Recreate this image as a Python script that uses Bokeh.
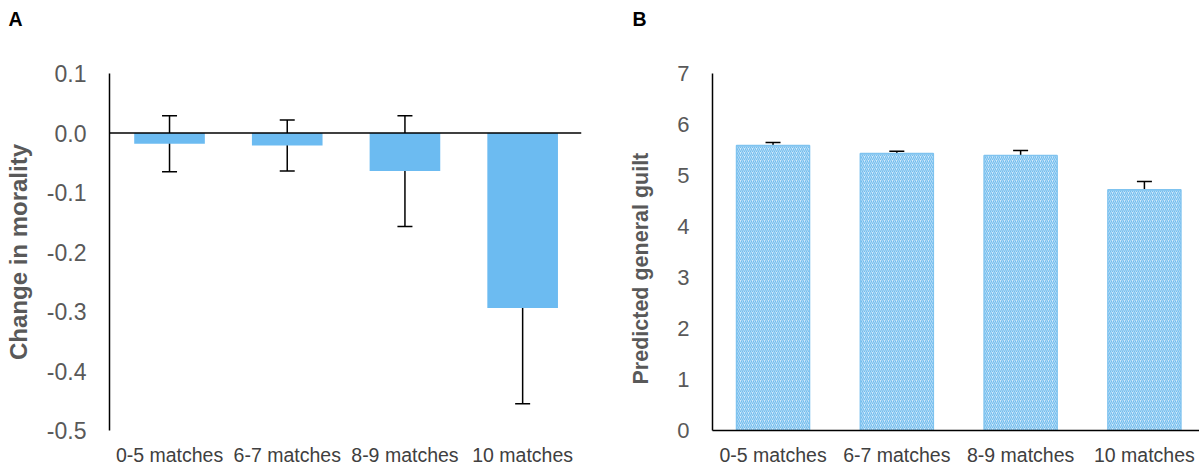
from bokeh.plotting import figure
from bokeh.models import (Range1d, FixedTicker, NumeralTickFormatter, Span, Whisker,
                          TeeHead, ColumnDataSource, Title)
from bokeh.layouts import row
from bokeh.embed import file_html
from bokeh.resources import INLINE

# ---- data ----
categories = ["0-5 matches", "6-7 matches", "8-9 matches", "10 matches"]
morality_change = [-0.018, -0.021, -0.064, -0.294]
morality_err = [0.047, 0.043, 0.093, 0.161]
guilt_pred = [5.59, 5.43, 5.39, 4.72]
guilt_err = [0.055, 0.045, 0.10, 0.16]
ticks_a = [-0.5, -0.4, -0.3, -0.2, -0.1, 0.0, 0.1]
ticks_b = [0, 1, 2, 3, 4, 5, 6, 7]

FONT = "Liberation Sans"
TICK_COL = "#595959"
XLAB_COL = "#404040"
xpos = [1, 2, 3, 4]
cat_labels = {i: c for i, c in zip(xpos, categories)}
HAS_STANDOFF = "standoff" in Title.properties()


def base_fig(width, xr, yr, left, right, ticks, tick_size, letter, letter_offset):
    p = figure(width=width, height=468, x_range=xr, y_range=yr,
               output_backend="svg", toolbar_location=None,
               min_border_left=left, min_border_right=right,
               min_border_top=73, min_border_bottom=37)
    p.outline_line_color = None
    p.xgrid.visible = False
    p.ygrid.visible = False
    p.background_fill_color = "white"
    p.border_fill_color = "white"
    # panel letter (two empty lines below lift it to the top of the figure)
    p.title.text = letter + "\n\n"
    p.title.align = "left"
    p.title.vertical_align = "top"
    p.title.offset = letter_offset
    p.title.text_font = FONT
    p.title.text_font_style = "bold"
    p.title.text_font_size = "19.5px"
    p.title.text_line_height = 0.94
    p.title.text_color = "black"
    if HAS_STANDOFF:
        p.title.standoff = 2
    # y axis
    yax = p.yaxis[0]
    yax.ticker = FixedTicker(ticks=ticks)
    yax.major_tick_out = 0
    yax.major_tick_in = 0
    yax.minor_tick_out = 0
    yax.minor_tick_in = 0
    yax.axis_line_color = "black"
    yax.axis_line_width = 1.5
    yax.major_label_standoff = 23
    yax.major_label_text_font = FONT
    yax.major_label_text_font_size = tick_size
    yax.major_label_text_color = TICK_COL
    # x axis with category labels
    xax = p.xaxis[0]
    xax.ticker = FixedTicker(ticks=xpos)
    xax.major_label_overrides = cat_labels
    xax.major_tick_out = 0
    xax.major_tick_in = 0
    xax.minor_tick_out = 0
    xax.minor_tick_in = 0
    xax.major_label_standoff = 13
    xax.major_label_text_font = FONT
    xax.major_label_text_font_size = "19.5px"
    xax.major_label_text_color = XLAB_COL
    return p


# ---------------- Panel A ----------------
pa = base_fig(600, Range1d(0.49, 4.50), Range1d(-0.5, 0.1), 109, 19,
              ticks_a, "23px", "A", -101)
pa.yaxis[0].formatter = NumeralTickFormatter(format="0.0")
pa.yaxis[0].axis_label = "Change in morality"
pa.yaxis[0].axis_label_text_font = FONT
pa.yaxis[0].axis_label_text_font_style = "bold"
pa.yaxis[0].axis_label_text_font_size = "24px"
pa.yaxis[0].axis_label_text_color = TICK_COL
pa.yaxis[0].axis_label_standoff = 12
pa.xaxis[0].axis_line_color = None

src_a = ColumnDataSource(dict(
    x=xpos, top=morality_change,
    upper=[m + e for m, e in zip(morality_change, morality_err)],
    lower=[m - e for m, e in zip(morality_change, morality_err)]))
pa.vbar(x="x", top="top", bottom=0, width=0.6, source=src_a,
        fill_color="#6cbbf1", line_color=None)
pa.add_layout(Span(location=0, dimension="width", line_color="black", line_width=1.5))
pa.add_layout(Whisker(base="x", upper="upper", lower="lower", source=src_a,
                      dimension="height", line_color="black", line_width=1.5,
                      upper_head=TeeHead(size=15, line_color="black", line_width=1.5),
                      lower_head=TeeHead(size=15, line_color="black", line_width=1.5)))

# ---------------- Panel B ----------------
pb = base_fig(599, Range1d(0.511, 4.445), Range1d(0, 7), 112, 0,
              ticks_b, "22px", "B", -80)
pb.xaxis[0].axis_line_color = "black"
pb.xaxis[0].axis_line_width = 1.5
# y title as a left-side title, anchored a fixed distance above the frame bottom
ytitle_b = Title(text="Predicted general guilt", align="left", offset=46,
                 text_font=FONT, text_font_style="bold", text_font_size="21.5px",
                 text_color=TICK_COL)
if HAS_STANDOFF:
    ytitle_b.standoff = 44
pb.add_layout(ytitle_b, "left")

src_b = ColumnDataSource(dict(
    x=xpos, top=guilt_pred,
    upper=[m + e for m, e in zip(guilt_pred, guilt_err)],
    lower=[m - e for m, e in zip(guilt_pred, guilt_err)]))
pb.vbar(x="x", top="top", bottom=0, width=0.59, source=src_b,
        fill_color="#d3eafa", line_color="#7fc3ef", line_width=1.5,
        hatch_pattern="right_diagonal_line", hatch_color="#72bdee",
        hatch_scale=4, hatch_weight=1.2)
pb.add_layout(Whisker(base="x", upper="upper", lower="lower", source=src_b,
                      dimension="height", line_color="black", line_width=1.5,
                      upper_head=TeeHead(size=15, line_color="black", line_width=1.5),
                      lower_head=TeeHead(size=15, line_color="black", line_width=1.5)))

layout = row(pa, pb)
open("out.html", "w").write(file_html(layout, INLINE))
